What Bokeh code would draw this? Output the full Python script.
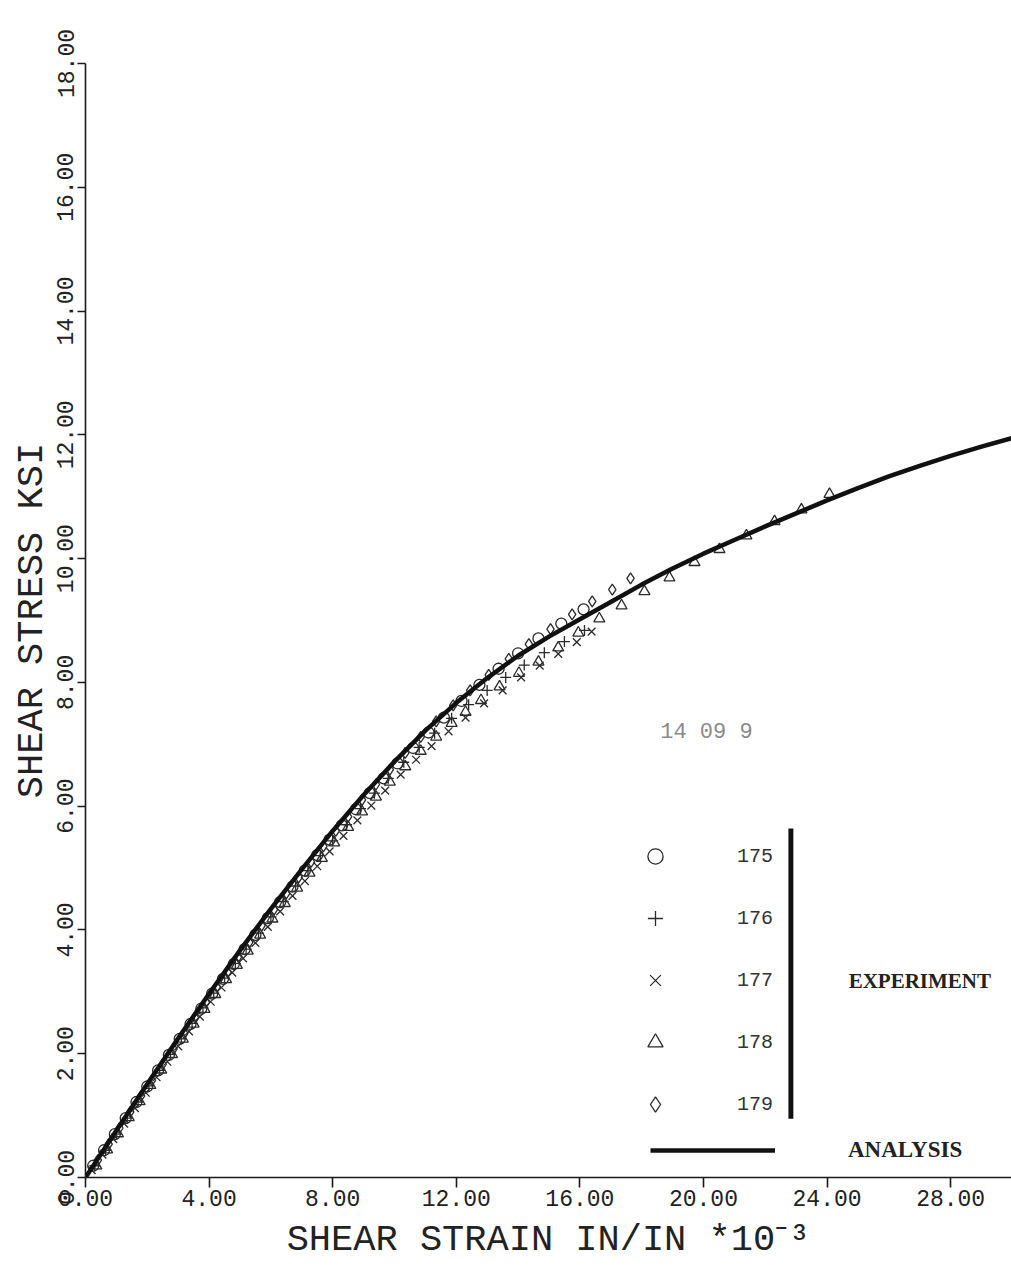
from bokeh.plotting import figure
from bokeh.models import (Range1d, FixedTicker, NumeralTickFormatter, Legend,
                          LegendItem, Label, BoxAnnotation)
from bokeh.embed import file_html
from bokeh.resources import INLINE

# ---------------- data ----------------
x_ticks = [0, 4, 8, 12, 16, 20, 24, 28]
y_ticks = [0, 2, 4, 6, 8, 10, 12, 14, 16, 18]

analysis_strain = list(range(0, 31))
analysis_stress = [0.0, 0.76, 1.51, 2.25, 2.97, 3.67, 4.34, 4.98, 5.60, 6.18,
                   6.72, 7.22, 7.67, 8.07, 8.43, 8.74, 9.02, 9.30, 9.58, 9.84,
                   10.08, 10.30, 10.52, 10.73, 10.94, 11.14, 11.33, 11.50, 11.66,
                   11.81, 11.95]

s175_strain = [0.25, 0.6, 0.95, 1.3, 1.65, 2.0, 2.35, 2.7, 3.05, 3.4, 3.75, 4.1,
               4.45, 4.8, 5.15, 5.5, 5.9, 6.3, 6.7, 7.1, 7.5, 7.9, 8.3, 8.75, 9.2,
               9.65, 10.1, 10.6, 11.1, 11.6, 12.17, 12.75, 13.37, 14.0, 14.66,
               15.4, 16.12]
s175_stress = [0.19, 0.44, 0.70, 0.96, 1.22, 1.47, 1.73, 1.98, 2.24, 2.48, 2.73,
               2.97, 3.21, 3.45, 3.69, 3.92, 4.19, 4.45, 4.70, 4.96, 5.21, 5.46,
               5.69, 5.95, 6.21, 6.45, 6.69, 6.94, 7.19, 7.43, 7.70, 7.96, 8.22,
               8.47, 8.71, 8.95, 9.18]

s176_strain = [0.3, 0.65, 1.0, 1.35, 1.7, 2.05, 2.4, 2.75, 3.1, 3.45, 3.8, 4.15,
               4.5, 4.85, 5.2, 5.6, 6.0, 6.4, 6.8, 7.2, 7.6, 8.0, 8.45, 8.9, 9.35,
               9.8, 10.3, 10.8, 11.3, 11.85, 12.4, 13.0, 13.6, 14.2, 14.85, 15.5,
               16.15]
s176_stress = [0.19, 0.44, 0.70, 0.96, 1.22, 1.48, 1.73, 1.99, 2.24, 2.49, 2.74,
               2.98, 3.22, 3.46, 3.69, 3.95, 4.21, 4.46, 4.71, 4.96, 5.20, 5.44,
               5.70, 5.96, 6.21, 6.45, 6.71, 6.95, 7.18, 7.42, 7.64, 7.87, 8.08,
               8.28, 8.48, 8.66, 8.84]

s177_strain = [0.2, 0.55, 0.9, 1.25, 1.6, 1.95, 2.3, 2.65, 3.0, 3.35, 3.7, 4.05,
               4.4, 4.75, 5.1, 5.5, 5.9, 6.3, 6.7, 7.1, 7.5, 7.9, 8.35, 8.8, 9.25,
               9.7, 10.2, 10.7, 11.2, 11.75, 12.3, 12.9, 13.5, 14.1, 14.7, 15.3,
               15.9, 16.38]
s177_stress = [0.12, 0.37, 0.62, 0.87, 1.12, 1.37, 1.62, 1.87, 2.12, 2.36, 2.60,
               2.84, 3.07, 3.31, 3.54, 3.79, 4.05, 4.30, 4.55, 4.79, 5.03, 5.27,
               5.52, 5.77, 6.01, 6.25, 6.51, 6.75, 6.97, 7.21, 7.43, 7.66, 7.87,
               8.08, 8.27, 8.46, 8.65, 8.82]

s178_strain = [0.35, 0.7, 1.05, 1.4, 1.75, 2.1, 2.45, 2.8, 3.15, 3.5, 3.85, 4.2,
               4.55, 4.9, 5.25, 5.65, 6.05, 6.45, 6.85, 7.25, 7.65, 8.05, 8.5,
               8.95, 9.4, 9.85, 10.35, 10.85, 11.35, 11.85, 12.3, 12.8, 13.4,
               14.03, 14.66, 15.3, 15.95, 16.63, 17.35, 18.09, 18.9, 19.71, 20.52,
               21.39, 22.3, 23.17, 24.08]
s178_stress = [0.19, 0.45, 0.71, 0.97, 1.23, 1.49, 1.74, 1.99, 2.24, 2.48, 2.72,
               2.96, 3.20, 3.43, 3.66, 3.92, 4.18, 4.43, 4.68, 4.92, 5.16, 5.41,
               5.66, 5.91, 6.15, 6.39, 6.64, 6.89, 7.12, 7.34, 7.52, 7.71, 7.93,
               8.15, 8.33, 8.56, 8.80, 9.03, 9.24, 9.47, 9.69, 9.94, 10.15, 10.37,
               10.60, 10.79, 11.04]

s179_strain = [0.4, 0.75, 1.1, 1.45, 1.8, 2.15, 2.5, 2.85, 3.2, 3.55, 3.9, 4.25,
               4.6, 4.95, 5.3, 5.7, 6.1, 6.5, 6.9, 7.3, 7.7, 8.1, 8.5, 8.95, 9.4,
               9.85, 10.35, 10.85, 11.35, 11.9, 12.45, 13.05, 13.7, 14.35, 15.05,
               15.75, 16.4, 17.05, 17.64]
s179_stress = [0.28, 0.54, 0.80, 1.06, 1.32, 1.57, 1.83, 2.08, 2.33, 2.58, 2.83,
               3.08, 3.32, 3.57, 3.80, 4.07, 4.33, 4.59, 4.85, 5.10, 5.35, 5.60,
               5.83, 6.10, 6.35, 6.59, 6.86, 7.12, 7.37, 7.63, 7.87, 8.12, 8.38,
               8.62, 8.86, 9.10, 9.31, 9.50, 9.68]

series_labels = ["175", "176", "177", "178", "179"]
series_markers = ["circle", "cross", "x", "triangle", "diamond"]

# ---------------- figure ----------------
INK = "#1a1a1a"
MONO = "Liberation Mono"

p = figure(width=1011, height=1266,
           x_range=Range1d(0, 29.97), y_range=Range1d(0, 18),
           output_backend="svg", toolbar_location=None,
           min_border_left=85, min_border_right=0,
           min_border_top=63, min_border_bottom=89,
           background_fill_color="white", border_fill_color="white")
p.outline_line_color = None
p.grid.visible = False

for ax in (p.xaxis[0], p.yaxis[0]):
    ax.formatter = NumeralTickFormatter(format="0.00")
    ax.axis_line_color = INK
    ax.axis_line_width = 1.6
    ax.major_tick_line_color = INK
    ax.major_tick_line_width = 1.6
    ax.major_tick_in = 0
    ax.minor_tick_line_color = None
    ax.major_label_text_font = MONO
    ax.major_label_text_font_size = "23px"
    ax.major_label_text_color = "#222"
    ax.axis_label_text_font = MONO
    ax.axis_label_text_font_style = "normal"
    ax.axis_label_text_font_size = "37px"
    ax.axis_label_text_color = "#222"

p.xaxis[0].ticker = FixedTicker(ticks=x_ticks)
p.yaxis[0].ticker = FixedTicker(ticks=y_ticks)
p.xaxis[0].major_tick_out = 10
p.yaxis[0].major_tick_out = 8
p.xaxis[0].major_label_standoff = 2
p.yaxis[0].major_label_standoff = 4
p.xaxis[0].axis_label_standoff = 10
p.yaxis[0].axis_label_standoff = 2
p.yaxis[0].major_label_orientation = "vertical"
p.xaxis[0].axis_label = "SHEAR STRAIN IN/IN *10\u207b\u00b3"
p.yaxis[0].axis_label = "SHEAR STRESS KSI"

# experiment points
xs = [s175_strain, s176_strain, s177_strain, s178_strain, s179_strain]
ys = [s175_stress, s176_stress, s177_stress, s178_stress, s179_stress]
exp_renderers = []
for sx, sy, mk in zip(xs, ys, series_markers):
    r = p.scatter(sx, sy, marker=mk, size=11, fill_color=None,
                  line_color="#2a2a2a", line_width=1.3)
    exp_renderers.append(r)

# analysis curve
r_an = p.line(analysis_strain, analysis_stress, line_width=4.5, line_color="#111111")

# legends
leg_exp = Legend(items=[LegendItem(label=lab, renderers=[r])
                        for lab, r in zip(series_labels, exp_renderers)],
                 location=(551, 54), orientation="vertical",
                 glyph_width=38, glyph_height=38, label_height=38,
                 spacing=24, label_standoff=63, padding=0, margin=0,
                 border_line_color=None, background_fill_alpha=0,
                 label_text_font=MONO, label_text_font_size="20px",
                 label_text_color="#333")
p.add_layout(leg_exp)

leg_an = Legend(items=[LegendItem(label="ANALYSIS", renderers=[r_an])],
                location=(565, 14), orientation="vertical",
                glyph_width=125, glyph_height=20, label_height=20,
                label_standoff=73, padding=0, margin=0,
                border_line_color=None, background_fill_alpha=0,
                label_text_font="Liberation Serif", label_text_font_style="bold",
                label_text_font_size="23px", label_text_color="#222")
p.add_layout(leg_an)

# bracket bar grouping the experiments
p.add_layout(BoxAnnotation(left=22.75, right=22.91, bottom=0.95, top=5.64,
                           fill_color="#111111", fill_alpha=1.0, line_color=None))

p.add_layout(Label(x=24.7, y=3.18, text="EXPERIMENT", text_baseline="middle",
                   text_font="Liberation Serif", text_font_style="bold",
                   text_font_size="21px", text_color="#222"))
p.add_layout(Label(x=18.6, y=7.19, text="14 09 9", text_baseline="middle",
                   text_font=MONO, text_font_size="22px", text_color="#8a8a8a"))

open("out.html", "w").write(file_html(p, INLINE))
